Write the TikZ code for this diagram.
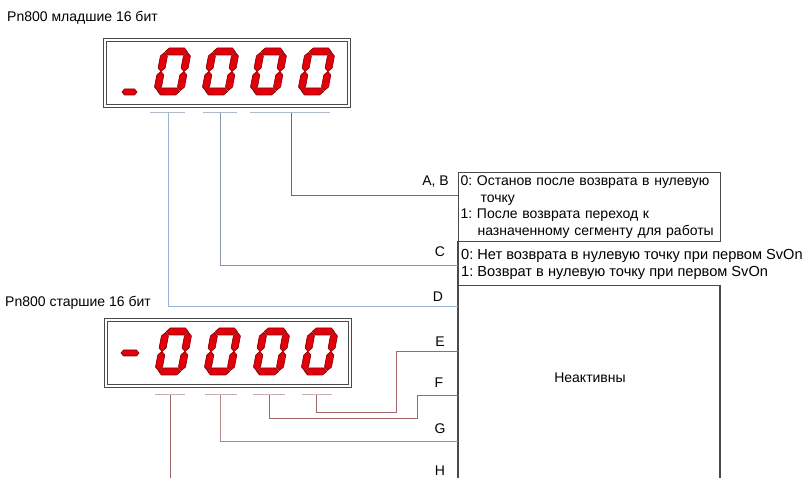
\documentclass[tikz,border=0pt]{standalone}
\usepackage{fontspec}
\setmainfont{Liberation Sans}
\usetikzlibrary{positioning}
\definecolor{SegRed}{HTML}{E3000B}
\definecolor{SegDark}{HTML}{8A0000}
\definecolor{FrameGray}{HTML}{4A4A4A}
\definecolor{LineAB}{HTML}{5A7090}
\definecolor{LineC}{HTML}{8896A8}
\definecolor{LineD}{HTML}{9AB4D8}
\definecolor{LineRed}{HTML}{A06868}
\definecolor{TickTop}{HTML}{AEBAC8}
\definecolor{TickBot}{HTML}{C8AEAE}

\tikzset{
  seg/.style={fill=SegRed,draw=SegDark,line width=0.7pt,line join=round},
  pics/segzero/.style={code={
    \filldraw[seg] (4,-3.5)--(7.5,0)--(22.5,0)--(26,-3.5)--(22.5,-7)--(7.5,-7)--cycle;
    \filldraw[seg] (4,-43.5)--(7.5,-40)--(22.5,-40)--(26,-43.5)--(22.5,-47)--(7.5,-47)--cycle;
    \foreach \sx in {0,23}{
      \filldraw[seg] (\sx+3.5,-4.5)--(\sx+7,-8)--(\sx+7,-20)--(\sx+3.5,-23.5)--(\sx,-20)--(\sx,-8)--cycle;
      \filldraw[seg] (\sx+3.5,-23.5)--(\sx+7,-27)--(\sx+7,-39)--(\sx+3.5,-42.5)--(\sx,-39)--(\sx,-27)--cycle;
    }
  }},
  dispbox/.style={draw=FrameGray,double=white,double distance=2.5pt,line width=1.2pt,
    minimum width=244pt,minimum height=66pt,inner sep=0pt},
  infobox/.style={draw=FrameGray,line width=1.2pt,anchor=north west,inner xsep=2pt,inner ysep=0pt,
    minimum width=262pt,minimum height=69pt,text width=258pt,align=left},
  bitlbl/.style={inner sep=0pt},
  tap/.style={line width=0.9pt}
}

\begin{document}
\frenchspacing
\begin{tikzpicture}[x=1pt,y=-1pt,font=\fontsize{14}{16.7}\selectfont]
  \useasboundingbox (0,0) rectangle (804,478);
  \clip (0,0) rectangle (804,478);

  % titles
  \node[anchor=west,inner sep=0pt] (lowtitle) at (7,18) {Pn800 младшие 16 бит};
  \node[anchor=west,inner sep=0pt] (hightitle) at (5,303) {Pn800 старшие 16 бит};

  % displays
  \node[dispbox] (lowdisp) at (227,73) {};
  \node[dispbox] (highdisp) at (228,353) {};
  \foreach \dx in {153,201,249,297} \pic[xslant=0.19] at (\dx,95) {segzero};
  \foreach \dx in {154,203,252,300} \pic[xslant=0.19] at (\dx,375) {segzero};
  \filldraw[seg] (122,92)--(124.5,89)--(134.5,89)--(137,92)--(134.5,95)--(124.5,95)--cycle;
  \filldraw[seg] (121,353)--(123.5,350)--(136.5,350)--(139,353)--(136.5,356)--(123.5,356)--cycle;

  % digit ticks
  \draw[TickTop,line width=1pt] (150,113) -- (185,113) (203,113) -- (237,113) (250,113) -- (330,113);
  \draw[TickBot,line width=1pt] (155,395) -- (185,395) (205,395) -- (237,395) (253,395) -- (285,395) (302,395) -- (332,395);

  % right boxes
  \node[infobox] (boxAB) at (458,172) {0: Останов после возврата в нулевую\\
    \hspace*{20pt}точку\\
    1: После возврата переход к\\
    \hspace*{17pt}назначенному сегменту для работы};
  \node[anchor=west,align=left,inner sep=0pt,font=\fontsize{14.6}{16.7}\selectfont] (boxC) at (461,264.5) {0: Нет возврата в нулевую точку при первом SvOn\\
    1: Возврат в нулевую точку при первом SvOn};
  \draw[FrameGray,line width=1.2pt] (458,241) -- (458,285.5) -- (720,285.5);
  \draw[FrameGray,line width=1.2pt] (458,285.5) -- (458,490) (720,285.5) -- (720,490);
  \node (inact) at (590,378) {Неактивны};

  % bit labels
  \node[bitlbl,anchor=east] (lAB) at (449,182) {A, B};
  \node[bitlbl] (lC) at (440,252) {C};
  \node[bitlbl] (lD) at (438,297) {D};
  \node[bitlbl] (lE) at (440,342) {E};
  \node[bitlbl] (lF) at (439,383) {F};
  \node[bitlbl] (lG) at (440,429) {G};
  \node[bitlbl] (lH) at (440,471) {H};

  % tap points and ends
  \coordinate (tAB) at (291,113);
  \coordinate (tC) at (220,113);
  \coordinate (tD) at (168,113);
  \coordinate (eAB) at (458,195);
  \coordinate (eC) at (458,265);
  \coordinate (eD) at (458,306);
  \coordinate (tE) at (316,395);
  \coordinate (tF) at (269,395);
  \coordinate (tG) at (220,395);
  \coordinate (tH) at (170,395);
  \coordinate (kE) at (396,412);
  \coordinate (kF) at (417,418);
  \coordinate (eE) at (458,351);
  \coordinate (eF) at (458,395);
  \coordinate (eG) at (458,441);
  \coordinate (eH) at (170,490);

  % connectors
  \draw[tap,LineAB] (tAB) |- (eAB);
  \draw[tap,LineC] (tC) |- (eC);
  \draw[tap,LineD] (tD) |- (eD);
  \draw[tap,LineRed] (tE) |- (kE) |- (eE);
  \draw[tap,LineRed] (tF) |- (kF) |- (eF);
  \draw[tap,LineRed!80] (tG) |- (eG);
  \draw[tap,LineRed] (tH) -- (eH);
\end{tikzpicture}
\end{document}
